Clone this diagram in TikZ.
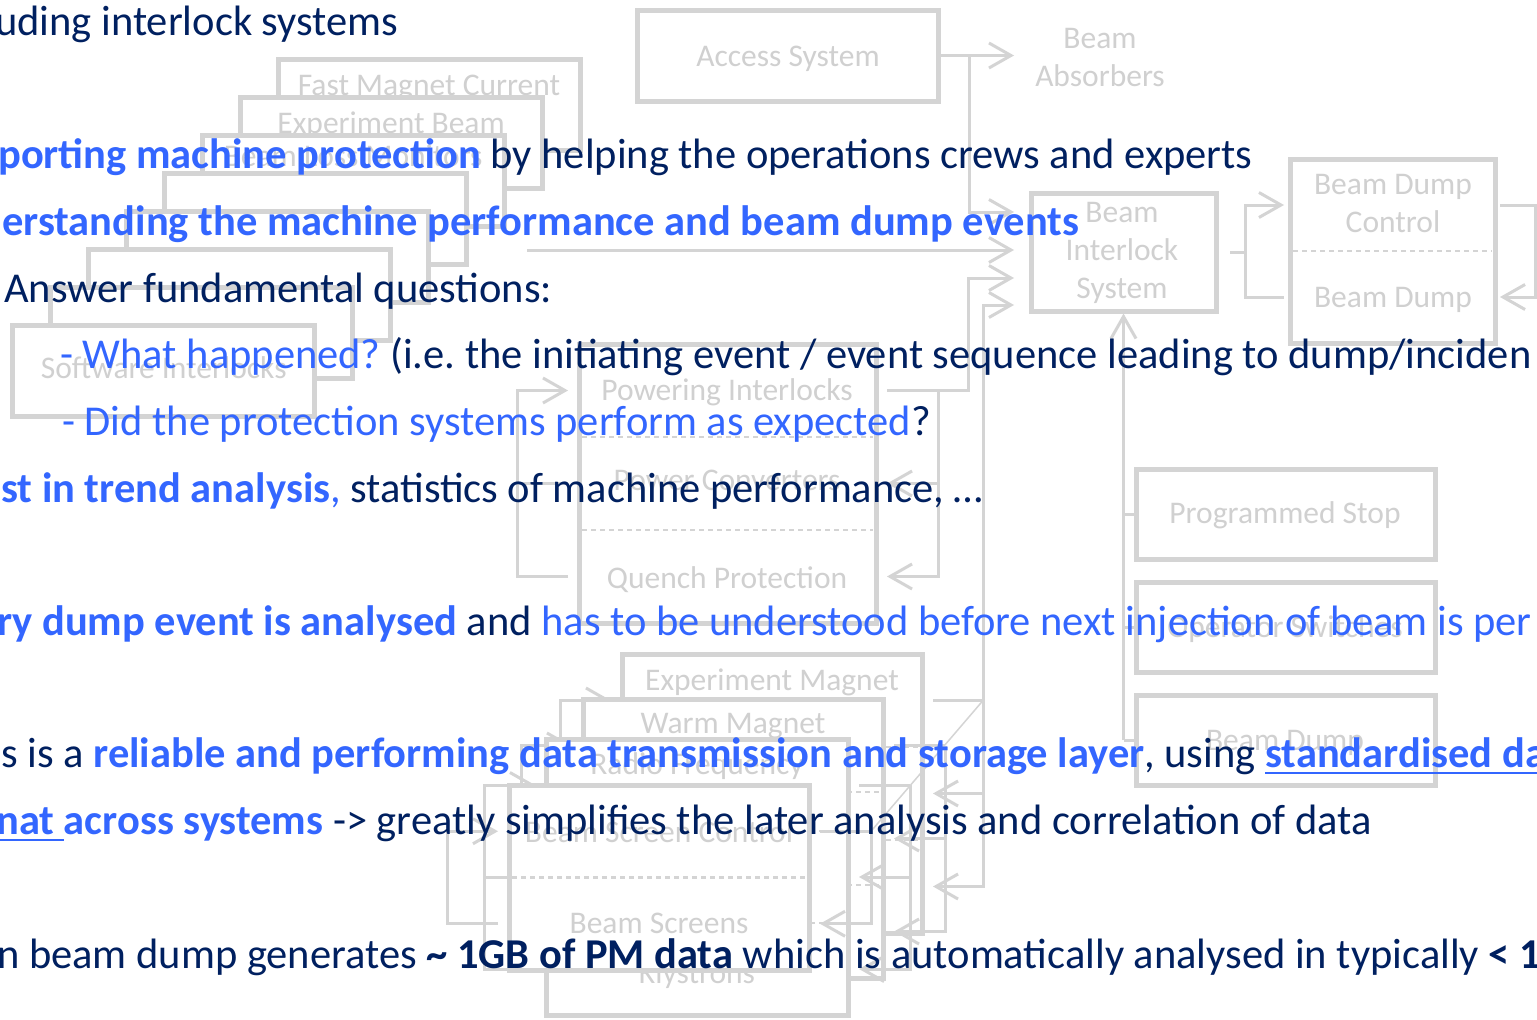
\documentclass[tikz,border=0pt]{standalone}
\usepackage{fontspec}
\setmainfont{Carlito}
\usetikzlibrary{arrows.meta,calc}

\definecolor{navy}{RGB}{0,32,96}
\definecolor{hiblue}{RGB}{51,102,255}
\definecolor{diagline}{RGB}{212,212,212}
\definecolor{diagtext}{RGB}{208,208,208}

\newcommand{\BlueB}[1]{\textcolor{hiblue}{\bfseries #1}}
\newcommand{\BlueR}[1]{\textcolor{hiblue}{#1}}
\newcommand{\NavyB}[1]{\textbf{#1}}
\newcommand{\ulbar}[1]{\setbox0\hbox{#1}\rlap{\rule[-7pt]{\wd0}{2.5pt}}\box0}

\tikzset{
  diagbox/.style={draw=diagline, line width=5pt, fill=white, inner sep=0pt, outer sep=0pt},
  sectn/.style={inner sep=0pt, outer sep=0pt},
  divider/.style={draw=diagline, line width=2.5pt, dash pattern=on 5pt off 4pt, shorten <=3pt, shorten >=3pt},
  lbl/.style={text=diagtext, font=\fontsize{31.5}{36}\selectfont, anchor=base, inner sep=0pt},
  wire/.style={draw=diagline, line width=3pt},
  arrowwire/.style={wire, -{Straight Barb[length=22pt, width=25pt]}},
  bisarrow/.style={arrowwire, shorten >=17pt},
  faint/.style={draw=diagline, line width=1.5pt},
  slide/.style={anchor=base west, inner sep=0pt, text=navy, font=\fontsize{42.5}{50}\selectfont\frenchspacing},
}

\begin{document}
\begin{tikzpicture}[x=1pt,y=-1pt]
\useasboundingbox (0,0) rectangle (1537,1020);
\fill[white] (0,0) rectangle (1537,1020);

% ---------- beam interlock system and dump ----------
\node[diagbox, minimum width=185pt, minimum height=118pt] (bis) at (1123.5,252) {};
\node[lbl] (bis-t1) at (1122,222) {Beam};
\node[lbl] (bis-t2) at (1122,260) {Interlock};
\node[lbl] (bis-t3) at (1122,298) {System};

\node[diagbox, minimum width=205pt, minimum height=184pt] (bd) at (1392.5,251) {};
\node[sectn, minimum width=205pt, minimum height=92pt] (bd1) at (1392.5,205) {};
\node[sectn, minimum width=205pt, minimum height=92pt] (bd2) at (1392.5,297) {};
\draw[divider] (bd1.south west) -- (bd1.south east);
\node[lbl] (bd-t1) at (1393,194) {Beam Dump};
\node[lbl] (bd-t2) at (1393,232) {Control};
\node[lbl] (bd-t3) at (1393,307) {Beam Dump};

\draw[wire] ([xshift=14pt]bis.east) -- ([xshift=29pt]bis.east);
\draw[arrowwire] ([xshift=29pt]bis.east) |- ([xshift=-6pt]bd1.west);
\draw[wire] ([xshift=29pt]bis.east) |- ([xshift=-6pt]bd2.west);
\draw[arrowwire] ([xshift=5pt]bd1.east) -- ([xshift=40pt]bd1.east) |- ([xshift=5pt]bd2.east);

% ---------- access system ----------
\node[diagbox, minimum width=301pt, minimum height=91pt] (acc) at (787.5,55.5) {};
\node[lbl] (acc-t) at (788,66) {Access System};
\node[sectn, minimum width=172pt, minimum height=80pt] (absorb) at (1100,55.5) {};
\node[lbl] (absorb-t1) at (1100,48) {Beam};
\node[lbl] (absorb-t2) at (1100,86) {Absorbers};
\draw[arrowwire] (acc.east) -- (absorb.west);
\coordinate (accsplit) at ($(acc.east)+(31,0)$);
\draw[bisarrow] (accsplit) |- (bis.west |- 0,212);

% ---------- user inputs below the interlock system ----------
\node[diagbox, minimum width=299pt, minimum height=90pt] (ps1) at (1285.5,514) {};
\node[lbl] (ps1-t) at (1285,523) {Programmed Stop};
\node[diagbox, minimum width=299pt, minimum height=90pt] (ps2) at (1285.5,627) {};
\node[lbl] (ps2-t) at (1285,637) {Operator Switches};
\node[diagbox, minimum width=299pt, minimum height=90pt] (ps3) at (1285.5,740) {};
\node[lbl] (ps3-t) at (1285,750) {Beam Dump};
\draw[arrowwire, shorten >=2.5pt] (bis.south |- ps3.west) -- (bis.south);
\draw[wire] (bis.south |- ps1.west) -- (ps1.west);
\draw[wire] (bis.south |- ps2.west) -- (ps2.west);
\draw[wire] (bis.south |- ps3.west) -- (ps3.west);

% ---------- stacked input systems (upper left) ----------
\node[diagbox, minimum width=302pt, minimum height=91pt] (sk1) at (429,104.5) {};
\node[lbl] (sk1-t) at (429,95.5) {Fast Magnet Current};
\node[diagbox, minimum width=302pt, minimum height=91pt] (sk2) at (391.1,142.5) {};
\node[lbl] (sk2-t) at (391.1,133.5) {Experiment Beam};
\node[diagbox, minimum width=302pt, minimum height=91pt] (sk3) at (353.2,180.5) {};
\node[lbl] (sk3-t) at (353.2,166) {Beam Loss Monitors};
\node[diagbox, minimum width=302pt, minimum height=91pt] (sk4) at (315.3,218.5) {};
\node[diagbox, minimum width=302pt, minimum height=91pt] (sk5) at (277.4,256.5) {};
\node[diagbox, minimum width=302pt, minimum height=91pt] (sk6) at (239.5,294.5) {};
\node[diagbox, minimum width=302pt, minimum height=91pt] (sk7) at (201.6,332.5) {};
\node[diagbox, minimum width=302pt, minimum height=91pt] (sk8) at (163.7,370.5) {};
\node[lbl] (sk8-t) at (163.7,378) {Software Interlocks};
\coordinate (skout) at (527,250);
\draw[bisarrow] (skout) -- (bis.west |- skout);

% ---------- powering interlocks ----------
\node[diagbox, minimum width=297pt, minimum height=279pt] (pw) at (727.5,483.5) {};
\node[sectn, minimum width=297pt, minimum height=93pt] (pw1) at (727.5,390.5) {};
\node[sectn, minimum width=297pt, minimum height=93pt] (pw2) at (727.5,483.5) {};
\node[sectn, minimum width=297pt, minimum height=93pt] (pw3) at (727.5,576.5) {};
\draw[divider] (pw1.south west) -- (pw1.south east);
\draw[divider] (pw2.south west) -- (pw2.south east);
\node[lbl] (pw-t1) at (727,400) {Powering Interlocks};
\node[lbl] (pw-t2) at (727,490) {Power Converters};
\node[lbl] (pw-t3) at (727,588) {Quench Protection};
\draw[arrowwire] ([xshift=-11pt]pw3.west) -| ([xshift=-62pt]pw1.west) -- ([xshift=-11pt]pw1.west);
\draw[wire] ([xshift=-62pt]pw2.west) -- ([xshift=-11pt]pw2.west);
\draw[arrowwire] ([xshift=11pt]pw1.east) -- ([xshift=92pt]pw1.east) |- ([xshift=-17pt]bis.west |- 0,278);
\draw[arrowwire] ([xshift=62pt]pw1.east) |- ([xshift=11pt]pw2.east);
\draw[arrowwire] ([xshift=62pt]pw1.east) |- ([xshift=11pt]pw3.east);

% ---------- stacked magnet / RF systems (lower middle) ----------
% experiment magnet
\node[diagbox, minimum width=300pt, minimum height=279pt] (em) at (772,793.5) {};
\node[sectn, minimum width=300pt, minimum height=93pt] (em1) at (772,700.5) {};
\node[sectn, minimum width=300pt, minimum height=93pt] (em2) at (772,793.5) {};
\node[sectn, minimum width=300pt, minimum height=93pt] (em3) at (772,886.5) {};
\draw[divider] (em1.south west) -- (em1.south east);
\draw[divider] (em2.south west) -- (em2.south east);
\node[lbl] (em-t) at (772,690) {Experiment Magnet};
\draw[arrowwire] ([xshift=-11pt]em3.west) -| ([xshift=-62pt]em1.west) -- ([xshift=-11pt]em1.west);
\draw[wire] ([xshift=-62pt]em2.west) -- ([xshift=-11pt]em2.west);
\draw[wire] ([xshift=11pt]em1.east) -- ([xshift=61pt]em1.east);
\draw[arrowwire] ([xshift=61pt]em1.east) |- ([xshift=11pt]em2.east);
\draw[arrowwire] ([xshift=61pt]em1.east) |- ([xshift=11pt]em3.east);
\draw[bisarrow] ([xshift=61pt]em1.east) |- (bis.west |- 0,305);

% warm magnet
\node[diagbox, minimum width=300pt, minimum height=279pt] (wm) at (733,838.5) {};
\node[sectn, minimum width=300pt, minimum height=93pt] (wm1) at (733,745.5) {};
\node[sectn, minimum width=300pt, minimum height=93pt] (wm2) at (733,838.5) {};
\node[sectn, minimum width=300pt, minimum height=93pt] (wm3) at (733,931.5) {};
\draw[divider] (wm1.south west) -- (wm1.south east);
\draw[divider] (wm2.south west) -- (wm2.south east);
\node[lbl] (wm-t) at (733,733) {Warm Magnet};
\draw[arrowwire] ([xshift=-11pt]wm3.west) -| ([xshift=-62pt]wm1.west) -- ([xshift=-11pt]wm1.west);
\draw[wire] ([xshift=-62pt]wm2.west) -- ([xshift=-11pt]wm2.west);
\draw[wire] ([xshift=11pt]wm1.east) -- ([xshift=62pt]wm1.east);
\draw[arrowwire] ([xshift=62pt]wm1.east) |- ([xshift=11pt]wm2.east);
\draw[arrowwire] ([xshift=62pt]wm1.east) |- ([xshift=11pt]wm3.east);

% radio frequency
\node[diagbox, minimum width=302pt, minimum height=276pt] (rf) at (697,877) {};
\node[sectn, minimum width=302pt, minimum height=92pt] (rf1) at (697,785) {};
\node[sectn, minimum width=302pt, minimum height=92pt] (rf2) at (697,877) {};
\node[sectn, minimum width=302pt, minimum height=92pt] (rf3) at (697,969) {};
\draw[divider] (rf1.south west) -- (rf1.south east);
\draw[divider] (rf2.south west) -- (rf2.south east);
\node[lbl] (rf-t1) at (697,774) {Radio Frequency};
\node[lbl] (rf-t3) at (697,983) {Klystrons};
\draw[arrowwire] ([xshift=-11pt]rf3.west) -| ([xshift=-62pt]rf1.west) -- ([xshift=-11pt]rf1.west);
\draw[wire] ([xshift=-62pt]rf2.west) -- ([xshift=-11pt]rf2.west);
\draw[wire] ([xshift=11pt]rf1.east) -- ([xshift=62pt]rf1.east);
\draw[arrowwire] ([xshift=62pt]rf1.east) |- ([xshift=11pt]rf2.east);
\draw[arrowwire] ([xshift=62pt]rf1.east) |- ([xshift=11pt]rf3.east);

% beam screen control
\node[diagbox, minimum width=300pt, minimum height=185pt] (bsc) at (659,877.5) {};
\node[sectn, minimum width=300pt, minimum height=92.5pt] (bsc1) at (659,831.25) {};
\node[sectn, minimum width=300pt, minimum height=92.5pt] (bsc2) at (659,923.75) {};
\draw[divider] (bsc1.south west) -- (bsc1.south east);
\node[lbl] (bsc-t1) at (659,842) {Beam Screen Control};
\node[lbl] (bsc-t2) at (659,933) {Beam Screens};
\draw[arrowwire] ([xshift=-11pt]bsc2.west) -| ([xshift=-62pt]bsc1.west) -- ([xshift=-11pt]bsc1.west);
\draw[wire] ([xshift=11pt]bsc1.east) -- ([xshift=62pt]bsc1.east);
\draw[arrowwire] ([xshift=62pt]bsc1.east) |- ([xshift=11pt]bsc2.east);

\draw[faint] ([xshift=61pt]em1.east) -- ([xshift=62pt]bsc1.east);

% ---------- slide text ----------
\node[slide] (l1) at (-5,35) {uding interlock systems};
\node[slide] (l2) at (-2,168) {\BlueB{porting machine protection} by helping the operations crews and experts};
\node[slide] (l3) at (2,235) {\BlueB{erstanding the machine performance and beam dump events}};
\node[slide] (l4) at (4,302) {Answer fundamental questions:};
\node[slide] (l5) at (60,368) {\BlueR{- What happened?} (i.e. the initiating event / event sequence leading to dump/inciden};
\node[slide] (l6) at (62,435) {\BlueR{- Did the protection systems perform as expected}?};
\node[slide] (l7) at (1,502) {\BlueB{st in trend analysis}\BlueR{,} statistics of machine performance, …};
\node[slide] (l8) at (-3,635) {\BlueB{ry dump event is analysed} and \BlueR{has to be understood before next injection of beam is per}};
\node[slide] (l9) at (1,767) {s is a \BlueB{reliable and performing data transmission and storage layer}, using \BlueB{\ulbar{standardised da}}};
\node[slide] (l10) at (-4,834) {\BlueB{\ulbar{nat }across systems} -> greatly simplifies the later analysis and correlation of data};
\node[slide] (l11) at (-3,968) {n beam dump generates \NavyB{\textasciitilde{} 1GB of PM data} which is automatically analysed in typically \NavyB{< 1}};
\end{tikzpicture}
\end{document}
